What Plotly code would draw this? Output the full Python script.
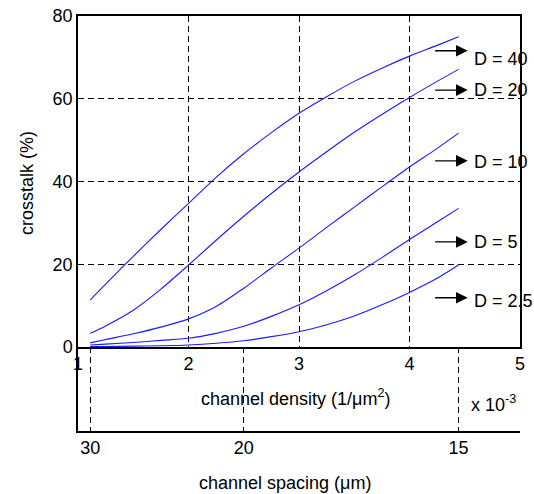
import plotly.graph_objects as go

# ---- data ----
density = [1.111, 1.25, 1.5, 1.75, 2.0, 2.25, 2.5, 2.75, 3.0, 3.25, 3.5, 3.75, 4.0, 4.25, 4.444]  # x 1e-3 1/um^2
d40 = [11.4, 15.2, 21.9, 28.4, 34.7, 41.0, 46.7, 51.8, 56.5, 60.5, 64.2, 67.4, 70.3, 72.9, 75.0]
d20 = [3.3, 5.1, 8.9, 14.0, 19.8, 25.8, 31.6, 37.1, 42.3, 47.2, 51.9, 56.2, 60.3, 64.2, 67.1]
d10 = [1.0, 1.8, 3.2, 4.8, 6.8, 9.8, 14.2, 19.1, 23.9, 28.9, 33.8, 38.7, 43.5, 48.0, 51.7]
d5 = [0.5, 0.7, 1.1, 1.6, 2.1, 3.3, 5.0, 7.4, 10.2, 13.6, 17.4, 21.6, 26.0, 30.2, 33.5]
d25 = [0.1, 0.1, 0.2, 0.3, 0.5, 0.9, 1.5, 2.5, 3.7, 5.4, 7.5, 10.2, 13.2, 16.6, 19.8]
series = [d40, d20, d10, d5, d25]

labels = ["D = 40", "D = 20", "D = 10", "D = 5", "D = 2.5"]
arrow_y = [71.6, 62.1, 45.0, 25.4, 11.9]
label_y = [69.6, 62.0, 44.7, 25.4, 11.2]

y_ticks = [0, 20, 40, 60, 80]
x_ticks = [1, 2, 3, 4, 5]
spacing_ticks = [30, 20, 15]   # channel spacing (um)

FONT = "Arial, Liberation Sans, sans-serif"

fig = go.Figure()
for s in series:
    fig.add_trace(go.Scatter(x=density, y=s, mode="lines",
                             line=dict(color="#1a1aff", width=1.1, shape="spline", smoothing=0.8),
                             xaxis="x", yaxis="y", showlegend=False, hoverinfo="skip"))

# invisible trace for the second axes
fig.add_trace(go.Scatter(x=[1, 5], y=[0, 1], mode="markers", marker=dict(opacity=0),
                         xaxis="x2", yaxis="y2", showlegend=False, hoverinfo="skip"))

split = 84 / 415

fig.update_layout(
    width=534, height=494,
    margin=dict(l=78, r=14, t=16, b=63, autoexpand=False),
    paper_bgcolor="white", plot_bgcolor="white",
    font=dict(family=FONT, size=18, color="black"),
    xaxis=dict(range=[1, 5], tickvals=x_ticks, ticktext=[str(v) for v in x_ticks],
               showgrid=True, gridcolor="black", griddash="6px,4px", gridwidth=1,
               showline=True, linecolor="black", linewidth=1.5, mirror=True,
               ticks="", zeroline=False, anchor="y", automargin=False),
    yaxis=dict(range=[0, 80], tickvals=y_ticks, domain=[split, 1],
               showgrid=True, gridcolor="black", griddash="6px,4px", gridwidth=1,
               showline=True, linecolor="black", linewidth=1.5, mirror=True,
               ticks="", zeroline=False, anchor="x", automargin=False),
    xaxis2=dict(range=[1, 5], tickvals=[1000 / s ** 2 for s in spacing_ticks],
                ticktext=[str(s) for s in spacing_ticks],
                showgrid=True, gridcolor="black", griddash="6px,4px", gridwidth=1,
                showline=True, linecolor="black", linewidth=1.5, mirror=False,
                ticks="", zeroline=False, anchor="y2", automargin=False),
    yaxis2=dict(range=[0, 1], domain=[0, split], showgrid=False, showticklabels=False,
                showline=True, linecolor="black", linewidth=1.5, ticks="",
                zeroline=False, anchor="x2", automargin=False),
)

for lab, ay, ly in zip(labels, arrow_y, label_y):
    fig.add_annotation(x=4.527, y=ay, ax=4.218, ay=ay, xref="x", yref="y",
                       axref="x", ayref="y", showarrow=True, arrowhead=2,
                       arrowsize=1.8, arrowwidth=1.3, arrowcolor="black", text="")
    fig.add_annotation(x=4.565, y=ly, xref="x", yref="y", text=lab, showarrow=False,
                       xanchor="left", yanchor="middle", font=dict(size=18))

# axis titles
fig.add_annotation(xref="paper", yref="paper", x=(295 - 78) / 442, y=(431 - 397) / 415,
                   text="channel density (1/μm<sup>2</sup>)", showarrow=False,
                   xanchor="center", yanchor="middle")
fig.add_annotation(xref="paper", yref="paper", x=(469 - 78) / 442, y=(431 - 403) / 415,
                   text="x 10<sup>-3</sup>", showarrow=False, xanchor="left", yanchor="middle")
fig.add_annotation(xref="paper", yref="paper", x=(285 - 78) / 442, y=(431 - 483) / 415,
                   text="channel spacing (μm)", showarrow=False, xanchor="center", yanchor="middle")
fig.add_annotation(xref="paper", yref="paper", x=(27 - 78) / 442, y=(431 - 183) / 415,
                   text="crosstalk (%)", showarrow=False, textangle=-90,
                   xanchor="center", yanchor="middle")

fig.write_html("out.html", config={"displayModeBar": False},
               post_script="document.body.style.margin='0';")
